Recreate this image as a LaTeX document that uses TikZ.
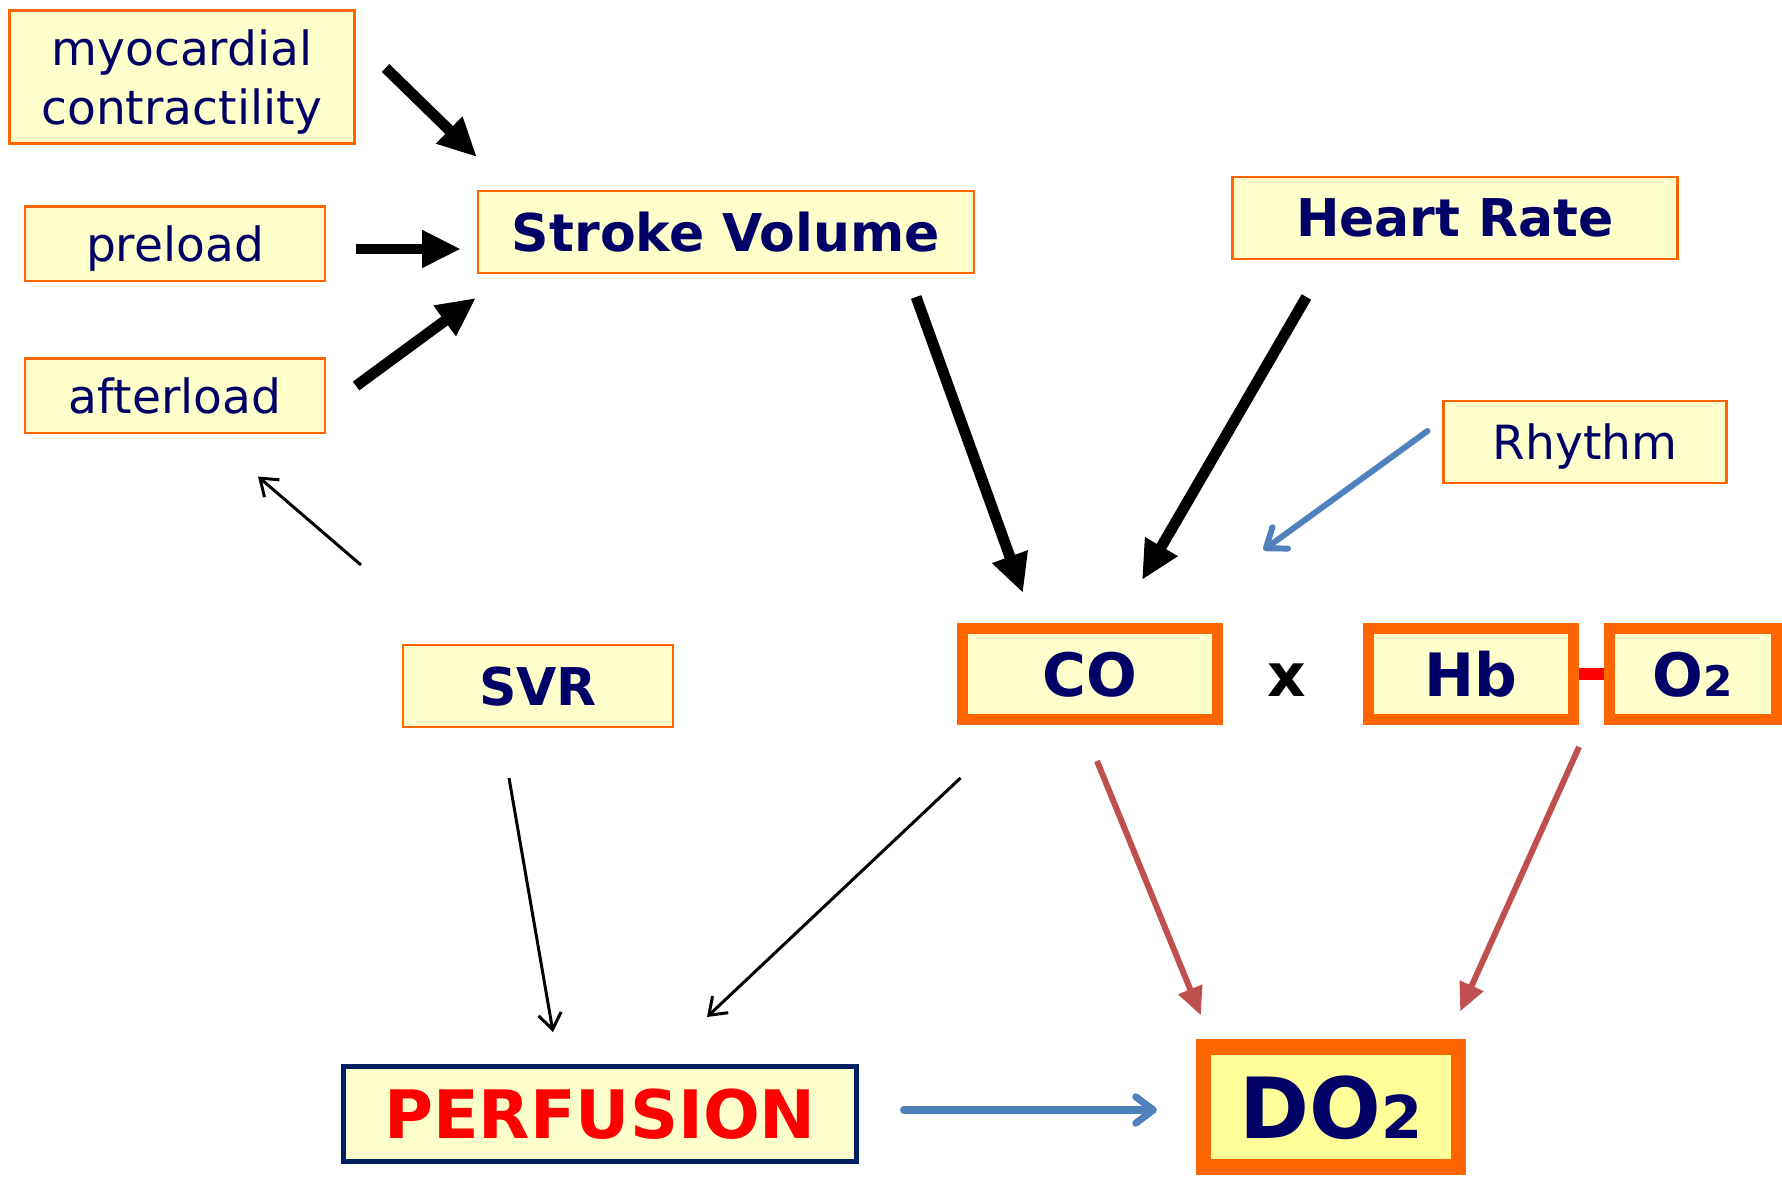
\documentclass[tikz,border=0pt]{standalone}
\usepackage{fontspec}
\setmainfont{DejaVu Sans}
\usetikzlibrary{arrows.meta}
\definecolor{boxfill}{RGB}{255,255,204}
\definecolor{dofill}{RGB}{255,255,153}
\definecolor{boxedge}{RGB}{255,102,0}
\definecolor{navytext}{RGB}{0,0,102}
\definecolor{perfedge}{RGB}{0,32,96}
\definecolor{redarrow}{RGB}{192,80,77}
\definecolor{bluearrow}{RGB}{79,129,189}
\newcommand{\subtwo}[1]{{\fontsize{#1}{#1}\selectfont 2}}

\begin{document}
\begin{tikzpicture}[x=0.01cm,y=-0.01cm]
    \tikzstyle{box}=[draw=boxedge,fill=boxfill,line width=0.7pt,inner sep=0pt,text depth=0pt,text=navytext,align=center,font=\fontsize{13.4}{16.8}\selectfont]
    \tikzstyle{bold box}=[box,minimum height=0.815cm,font=\bfseries\fontsize{14.8}{18}\selectfont]
    \tikzstyle{key box}=[box,line width=3.1pt,minimum height=0.91cm,font=\bfseries\fontsize{17}{20}\selectfont]
    \tikzstyle{fat}=[line width=3.1pt,-{Triangle[length=11pt,width=10pt]}]
    \tikzstyle{slim}=[line width=0.85pt,-{Straight Barb[length=4.5pt,width=6.5pt]}]
    \tikzstyle{rust}=[redarrow,line width=1.7pt,-{Triangle[length=8pt,width=7pt]}]
    \tikzstyle{sky}=[bluearrow,line width=1.7pt,line cap=round,-{Straight Barb[length=5pt,width=7.5pt,round]}]
    \useasboundingbox (0,0) rectangle (1782,1177);
    \node[box,minimum width=3.445cm,minimum height=1.325cm] (myo) at (182,77) {myocardial\\contractility};
    \node[box,minimum width=2.995cm,minimum height=0.745cm] (pre) at (175,244) {preload};
    \node[box,minimum width=2.995cm,minimum height=0.745cm] (aft) at (175,396) {afterload};
    \node[bold box,minimum width=4.955cm] (sv) at (726,232) {Stroke Volume};
    \node[bold box,minimum width=4.445cm] (hr) at (1455,218) {Heart Rate};
    \node[box,minimum width=2.825cm,minimum height=0.815cm] (rhy) at (1585,442) {Rhythm};
    \node[bold box,minimum width=2.695cm] (svr) at (538,686) {SVR};
    \node[key box,minimum width=2.54cm] (co) at (1090,674) {CO};
    \node[font=\bfseries\fontsize{17}{20}\selectfont] (times) at (1287,680) {x};
    \node[key box,minimum width=2.05cm] (hb) at (1471,674) {Hb};
    \node[key box,minimum width=1.67cm] (o2) at (1693,674) {O\subtwo{12}};
    \node[box,draw=perfedge,line width=1.4pt,minimum width=5.12cm,minimum height=0.95cm,text=red,font=\bfseries\fontsize{19}{22}\selectfont] (perf) at (600,1114) {PERFUSION};
    \node[box,fill=dofill,line width=4.3pt,minimum width=2.55cm,minimum height=1.2cm,font=\bfseries\fontsize{24}{28}\selectfont] (do2) at (1331,1107) {DO\subtwo{16.8}};
    \draw[red,line width=3.4pt] (hb.east) -- (o2.west);
    \draw[fat] ([shift={(30,-9)}]myo.east) -- ([shift={(0,-33)}]sv.north west);
    \draw[fat] ([shift={(30,5)}]pre.east) -- ([shift={(-16,17)}]sv.west);
    \draw[fat] ([shift={(30,-10)}]aft.east) -- ([shift={(-1,24)}]sv.south west);
    \draw[fat] ([shift={(-59,23)}]sv.south east) -- ([shift={(-67,-30)}]co.north);
    \draw[fat] ([shift={(75,37)}]hr.south west) -- ([shift={(52,-43)}]co.north);
    \draw[sky] ([shift={(-15,-11)}]rhy.west) -- ([shift={(41,-73)}]co.north east);
    \draw[slim] ([shift={(-41,-79)}]svr.north west) -- ([shift={(83,42)}]aft.south);
    \draw[slim] ([shift={(-29,50)}]svr.south) -- ([shift={(-47,-32)}]perf.north);
    \draw[slim] ([shift={(3,53)}]co.south west) -- ([shift={(107,-47)}]perf.north);
    \draw[rust] ([shift={(7,36)}]co.south) -- ([shift={(5,-24)}]do2.north west);
    \draw[rust] ([shift={(0,22)}]hb.south east) -- ([shift={(-6,-28)}]do2.north east);
    \draw[sky,line width=2pt] ([shift={(45,-4)}]perf.east) -- ([shift={(-39,3)}]do2.west);
\end{tikzpicture}
\end{document}
